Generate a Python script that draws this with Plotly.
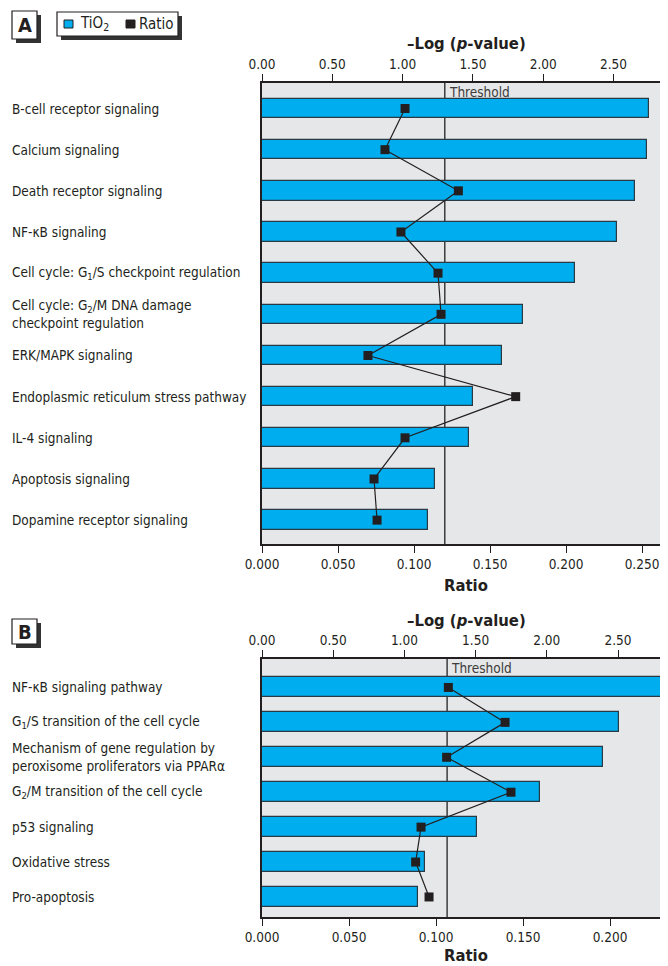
import plotly.graph_objects as go

# ---------------- Data ----------------
cats_a = [
    "B-cell receptor signaling",
    "Calcium signaling",
    "Death receptor signaling",
    "NF-κB signaling",
    "Cell cycle: G<sub>1</sub>/S checkpoint regulation",
    "Cell cycle: G<sub>2</sub>/M DNA damage<br>checkpoint regulation",
    "ERK/MAPK signaling",
    "Endoplasmic reticulum stress pathway",
    "IL-4 signaling",
    "Apoptosis signaling",
    "Dopamine receptor signaling",
]
logp_a = [2.750, 2.738, 2.655, 2.525, 2.226, 1.854, 1.705, 1.503, 1.472, 1.230, 1.181]
ratio_a = [0.0941, 0.0809, 0.1292, 0.0914, 0.1158, 0.1178, 0.0697, 0.1669, 0.0941, 0.0737, 0.0757]

cats_b = [
    "NF-κB signaling pathway",
    "G<sub>1</sub>/S transition of the cell cycle",
    "Mechanism of gene regulation by<br>peroxisome proliferators via PPARα",
    "G<sub>2</sub>/M transition of the cell cycle",
    "p53 signaling",
    "Oxidative stress",
    "Pro-apoptosis",
]
logp_b = [2.842, 2.507, 2.395, 1.952, 1.510, 1.145, 1.098]
ratio_b = [0.1071, 0.1397, 0.1061, 0.1431, 0.0914, 0.0883, 0.0960]

threshold = 1.3
logp_ticks = [0.0, 0.5, 1.0, 1.5, 2.0, 2.5]
ratio_ticks_a = [0.0, 0.05, 0.10, 0.15, 0.20, 0.25]
ratio_ticks_b = [0.0, 0.05, 0.10, 0.15, 0.20]

# ---------------- Style ----------------
OX, OY = 8, 8          # page offset of the figure (body margin)
FW, FH = 660, 958      # figure size
FONT = "Liberation Sans Narrow, Arial Narrow, DejaVu Sans Condensed, sans-serif"
BAR = "#00AEEF"
DARK = "#231F20"
BG = "#E6E7E8"


def px(x):
    return (x - OX) / FW


def py(y):
    return 1 - (y - OY) / FH


fig = go.Figure()

idx_a = list(range(len(cats_a)))
idx_b = list(range(len(cats_b)))

bar_line = dict(color="#2a3a44", width=1.2)
# Panel A: bars on base axis x (top, -log p), ratio on overlay x2 (bottom)
fig.add_trace(go.Bar(x=logp_a, y=idx_a, orientation="h", xaxis="x", yaxis="y",
                     width=0.47, marker=dict(color=BAR, line=bar_line),
                     name="TiO<sub>2</sub>", showlegend=False))
fig.add_trace(go.Scatter(x=ratio_a, y=idx_a, xaxis="x2", yaxis="y", mode="lines+markers",
                         line=dict(color=DARK, width=1.2),
                         marker=dict(symbol="square", size=9, color=DARK),
                         name="Ratio", showlegend=False))
# Panel B
fig.add_trace(go.Bar(x=logp_b, y=idx_b, orientation="h", xaxis="x3", yaxis="y2",
                     width=0.574, marker=dict(color=BAR, line=bar_line),
                     name="TiO<sub>2</sub>", showlegend=False))
fig.add_trace(go.Scatter(x=ratio_b, y=idx_b, xaxis="x4", yaxis="y2", mode="lines+markers",
                         line=dict(color=DARK, width=1.2),
                         marker=dict(symbol="square", size=9, color=DARK),
                         name="Ratio", showlegend=False))

dom_x = [px(262), 1.0]
dom_ya = [py(544), py(83)]
dom_yb = [py(917), py(659)]

tickfont = dict(family=FONT, size=13.5, color=DARK)
common_x = dict(showgrid=False, zeroline=False, showline=True, linecolor=DARK, linewidth=1.5,
                ticks="outside", ticklen=7, tickwidth=1, tickcolor=DARK, tickfont=tickfont,
                domain=dom_x, automargin=False)
common_y = dict(showgrid=False, zeroline=False, showline=True, linecolor=DARK, linewidth=1.5,
                showticklabels=False, ticks="", automargin=False)

fig.update_layout(
    width=FW, height=FH, autosize=False,
    margin=dict(l=0, r=0, t=0, b=0, pad=0),
    paper_bgcolor="white", plot_bgcolor=BG,
    font=dict(family=FONT, size=13.5, color=DARK),
    bargap=0,
    xaxis=dict(**common_x, anchor="y", side="top", range=[0, 406 / 140.6],
               tickvals=logp_ticks, tickformat=".2f"),
    xaxis2=dict(**common_x, anchor="y", side="bottom", overlaying="x", range=[0, 406 / 1520],
                tickvals=ratio_ticks_a, tickformat=".3f"),
    yaxis=dict(**common_y, domain=dom_ya, range=[10.58, -0.62]),
    xaxis3=dict(**common_x, anchor="y2", side="top", range=[0, 406 / 142.4],
                tickvals=logp_ticks, tickformat=".2f"),
    xaxis4=dict(**common_x, anchor="y2", side="bottom", overlaying="x3", range=[0, 406 / 1740],
                tickvals=ratio_ticks_b, tickformat=".3f"),
    yaxis2=dict(**common_y, domain=dom_yb, range=[6.574, -0.815]),
)

shapes = []
annotations = []

# Threshold lines
for xr, yr in (("x", "y"), ("x3", "y2")):
    shapes.append(dict(type="line", xref=xr, yref=yr + " domain", x0=threshold, x1=threshold,
                       y0=0, y1=1, line=dict(color="#3c3c3c", width=1.5), layer="below"))
    annotations.append(dict(xref=xr, yref=yr + " domain", x=threshold, y=1, xanchor="left",
                            yanchor="top", xshift=2, yshift=1, showarrow=False, text="Threshold",
                            font=dict(family=FONT, size=13.5, color="#3c3c3c")))

# Category labels
for i, c in enumerate(cats_a):
    annotations.append(dict(xref="paper", yref="y", x=px(10), y=i, xanchor="left",
                            yanchor="middle", align="left", showarrow=False, text=c,
                            font=dict(family=FONT, size=13.5, color=DARK)))
for i, c in enumerate(cats_b):
    annotations.append(dict(xref="paper", yref="y2", x=px(10), y=i, xanchor="left",
                            yanchor="middle", align="left", showarrow=False, text=c,
                            font=dict(family=FONT, size=13.5, color=DARK)))

# Axis titles
title_font = dict(family=FONT, size=16.5, color=DARK)
for yy, txt in ((43, "<b>–Log (<i>p</i>-value)</b>"), (585, "<b>Ratio</b>"),
                (620, "<b>–Log (<i>p</i>-value)</b>"), (955, "<b>Ratio</b>")):
    annotations.append(dict(xref="paper", yref="paper", x=px(466), y=py(yy), xanchor="center",
                            yanchor="middle", showarrow=False, text=txt, font=title_font))


def boxed(x0, y0, x1, y1, off=4):
    shapes.append(dict(type="rect", xref="paper", yref="paper", x0=px(x0 + off), x1=px(x1 + off),
                       y0=py(y1 + off), y1=py(y0 + off), fillcolor="#333333", line=dict(width=0)))
    shapes.append(dict(type="rect", xref="paper", yref="paper", x0=px(x0), x1=px(x1),
                       y0=py(y1), y1=py(y0), fillcolor="white", line=dict(color=DARK, width=1.2)))


# Panel letters
boxed(12, 11, 37, 39)
annotations.append(dict(xref="paper", yref="paper", x=px(24.5), y=py(25.5), showarrow=False,
                        xanchor="center", yanchor="middle",
                        text="<b>A</b>", font=dict(family=FONT, size=20, color=DARK)))
boxed(12, 619, 37, 644)
annotations.append(dict(xref="paper", yref="paper", x=px(24.5), y=py(632), showarrow=False,
                        xanchor="center", yanchor="middle",
                        text="<b>B</b>", font=dict(family=FONT, size=20, color=DARK)))

# Legend
boxed(57, 12, 178, 36)
shapes.append(dict(type="rect", xref="paper", yref="paper", x0=px(64), x1=px(73), y0=py(28),
                   y1=py(20), fillcolor=BAR, line=dict(color=DARK, width=1)))
annotations.append(dict(xref="paper", yref="paper", x=px(78), y=py(24), xanchor="left",
                        yanchor="middle", showarrow=False, text="TiO<sub>2</sub>",
                        font=dict(family=FONT, size=15, color=DARK)))
shapes.append(dict(type="rect", xref="paper", yref="paper", x0=px(126), x1=px(135), y0=py(28),
                   y1=py(20), fillcolor=DARK, line=dict(color=DARK, width=1)))
annotations.append(dict(xref="paper", yref="paper", x=px(137), y=py(24), xanchor="left",
                        yanchor="middle", showarrow=False, text="Ratio",
                        font=dict(family=FONT, size=15, color=DARK)))

fig.update_layout(shapes=shapes, annotations=annotations)
fig.write_html("out.html")
